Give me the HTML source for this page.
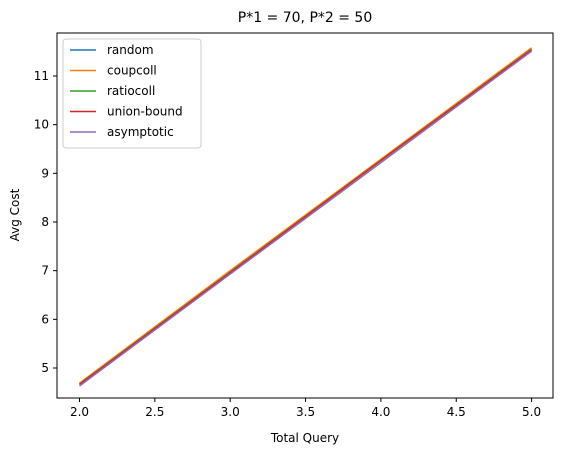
<!DOCTYPE html>
<html><head><meta charset="utf-8"><style>
body{margin:0;background:#fff;font-family:"Liberation Sans","DejaVu Sans",sans-serif}
svg text{font-family:"DejaVu Sans","Liberation Sans",sans-serif}
</style></head><body>
<svg id="chart" width="563" height="455">
<rect x="57" y="33" width="496" height="365" fill="#fff" stroke="#000" stroke-width="1"/>
<text x="305" y="22" font-size="14" text-anchor="middle">P*1 = 70, P*2 = 50</text>
<text x="305" y="442" font-size="12" text-anchor="middle">Total Query</text>
<text x="19" y="215" font-size="12" text-anchor="middle" transform="rotate(-90 19 215)">Avg Cost</text>
<g id="xt"></g><g id="yt"></g><g id="lines"></g><g id="legend"></g>
</svg>
<script>
const xValues=[2,3,4,5];
const seriesNames=["random","coupcoll","ratiocoll","union-bound","asymptotic"];
const colors=["#1f77b4","#ff7f0e","#2ca02c","#d62728","#9467bd"];
const random=[4.67,6.97,9.27,11.55];
const coupcoll=[4.69,7.0,9.29,11.58];
const ratiocoll=[4.67,6.97,9.27,11.55];
const unionBound=[4.66,6.96,9.26,11.54];
const asymptotic=[4.63,6.93,9.22,11.51];
const xTicks=[2.0,2.5,3.0,3.5,4.0,4.5,5.0];
const yTicks=[5,6,7,8,9,10,11];
const NS="http://www.w3.org/2000/svg";
function X(v){return 79.5+(v-2)*150.7;}
function Y(v){return 368-(v-5)*48.67;}
function mk(t,a,p){const e=document.createElementNS(NS,t);for(const k in a)e.setAttribute(k,a[k]);p.appendChild(e);return e;}
const xt=document.getElementById('xt'),yt=document.getElementById('yt');
xTicks.forEach(v=>{
 const l=mk('line',{x1:X(v),x2:X(v),y1:398,y2:402,stroke:'#000'},xt);
 
 
 const t=mk('text',{x:X(v),y:416,'font-size':12,'text-anchor':'middle'},xt);t.textContent=v.toFixed(1);
 
 
});
yTicks.forEach(v=>{
 const l=mk('line',{x1:53,x2:57,y1:Y(v),y2:Y(v),stroke:'#000'},yt);
 
 
 const t=mk('text',{x:49,y:Y(v)+4,'font-size':12,'text-anchor':'end'},yt);t.textContent=v;
 
 
});
const all=[random,coupcoll,ratiocoll,unionBound,asymptotic];
const lg=document.getElementById('lines');
all.forEach((s,i)=>{
 const p=mk('polyline',{points:s.map((v,j)=>X(xValues[j])+','+Y(v)).join(' '),fill:'none',stroke:colors[i],'stroke-width':1.5},lg);
 
 
});
const leg=document.getElementById('legend');
const box=mk('rect',{x:63,y:39,width:138,height:109,rx:3,fill:'#fff',stroke:'#ccc'},leg);


seriesNames.forEach((n,i)=>{
 const y=50+i*20.5;
 const l=mk('line',{x1:70,x2:96,y1:y,y2:y,stroke:colors[i],'stroke-width':1.5},leg);
 
 
 const t=mk('text',{x:107,y:y+4,'font-size':12},leg);t.textContent=n;
 
 
});
</script>
</body></html>
